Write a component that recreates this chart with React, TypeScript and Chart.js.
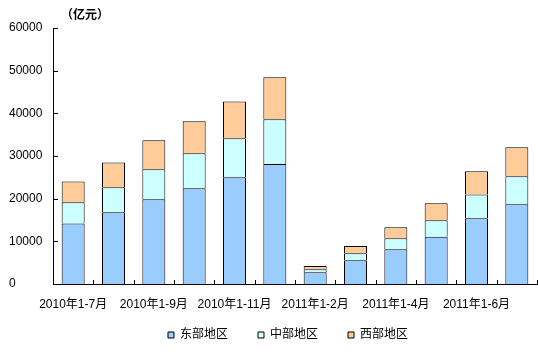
import React, { useEffect, useRef } from "react";
import { Chart, registerables } from "chart.js";

Chart.register(...registerables);

const categories = [
  "2010年1-7月", "2010年1-8月", "2010年1-9月", "2010年1-10月", "2010年1-11月", "2010年1-12月",
  "2011年1-2月", "2011年1-3月", "2011年1-4月", "2011年1-5月", "2011年1-6月", "2011年1-7月",
];
const eastValues = [14200, 16800, 19850, 22450, 25000, 28150, 2750, 5550, 8150, 11100, 15400, 18700];
const centralValues = [4950, 5850, 7050, 8200, 9150, 10450, 700, 1650, 2550, 3850, 5600, 6550];
const westValues = [4900, 5850, 6800, 7500, 8650, 9850, 780, 1700, 2600, 3950, 5400, 6800];
const seriesNames = ["东部地区", "中部地区", "西部地区"];
const unitLabel = "（亿元）";
const yMax = 60000;
const yStep = 10000;

const FONT = '"Liberation Sans", Arial, "Noto Sans CJK SC", sans-serif';

const inwardTicks = {
  id: "inwardTicks",
  afterDraw(chart: any) {
    const ctx = chart.ctx;
    const y = chart.scales.y;
    const area = chart.chartArea;
    ctx.save();
    ctx.strokeStyle = "#000";
    ctx.lineWidth = 1;
    ctx.beginPath();
    y.ticks.forEach((t: any) => {
      const py = Math.round(y.getPixelForValue(t.value)) + 0.5;
      ctx.moveTo(area.left, py);
      ctx.lineTo(area.left + 5, py);
    });
    const n = categories.length;
    const w = (area.right - area.left) / n;
    for (let i = 1; i <= n; i++) {
      const px = Math.round(area.left + w * i) + 0.5;
      ctx.moveTo(px, area.bottom);
      ctx.lineTo(px, area.bottom - 4);
    }
    ctx.stroke();
    ctx.fillStyle = "#000";
    ctx.font = "bold 12px " + FONT;
    ctx.textAlign = "left";
    ctx.textBaseline = "middle";
    ctx.fillText(unitLabel, area.left + 8, 16);
    ctx.restore();
  },
};

export default function App() {
  const ref = useRef<HTMLCanvasElement>(null);
  useEffect(() => {
    document.body.style.margin = "0";
    const colors = ["#99CCFF", "#CCFFFF", "#FFCC99"];
    const values = [eastValues, centralValues, westValues];
    const chart = new Chart(ref.current!, {
      type: "bar",
      data: {
        labels: categories,
        datasets: values.map((v, i) => ({
          label: seriesNames[i],
          data: v,
          backgroundColor: colors[i],
          borderColor: "#000",
          borderWidth: 1,
          borderSkipped: "start" as any,
          barPercentage: 0.57,
          categoryPercentage: 1,
        })),
      },
      options: {
        responsive: false,
        animation: false,
        layout: { padding: { left: 39, right: 1, top: 28, bottom: 1 } },
        plugins: {
          legend: {
            position: "bottom",
            labels: {
              boxWidth: 6,
              boxHeight: 6,
              padding: 30,
              color: "#000",
              font: { size: 12, family: FONT },
            },
          },
          tooltip: { enabled: false },
        },
        scales: {
          x: {
            stacked: true,
            grid: { display: false, drawTicks: false },
            border: { display: true, color: "#000", width: 1 },
            ticks: {
              autoSkip: false,
              maxRotation: 0,
              minRotation: 0,
              mirror: true,
              padding: -28,
              color: "#000",
              font: { size: 12, family: FONT },
              callback: (_v: any, i: number) => (i % 2 === 0 ? categories[i] : ""),
            },
            afterFit: (s: any) => {
              s.height = 15;
            },
          },
          y: {
            stacked: true,
            min: 0,
            max: yMax,
            grid: { display: false, drawTicks: false },
            border: { display: true, color: "#000", width: 1 },
            ticks: {
              stepSize: yStep,
              mirror: true,
              padding: -44,
              color: "#000",
              font: { size: 12, family: FONT },
              callback: (v: any) => String(v),
            },
            afterFit: (s: any) => {
              s.width = 14;
            },
          },
        },
      },
      plugins: [inwardTicks],
    });
    return () => chart.destroy();
  }, []);
  return (
    <div style={{ width: 538, height: 352 }}>
      <canvas ref={ref} width={538} height={352} style={{ display: "block" }} />
    </div>
  );
}
